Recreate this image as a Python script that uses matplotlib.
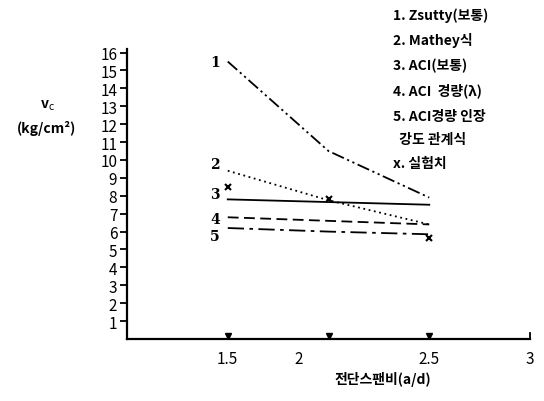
import matplotlib
matplotlib.use("Agg")
import matplotlib.pyplot as plt

plt.rcParams['font.family'] = ['Noto Sans CJK KR', 'DejaVu Sans']

ad = [1.5, 2.0, 2.5]
zsutty = [15.5, 10.5, 7.9]
mathey = [9.4, 7.75, 6.4]
aci = [7.8, 7.65, 7.5]
aci_light = [6.8, 6.6, 6.4]
aci_tensile = [6.2, 6.0, 5.85]
test = [8.5, 7.8, 5.65]

series = [zsutty, mathey, aci, aci_light, aci_tensile]
series_ids = ['1', '2', '3', '4', '5']
styles = [(0, (7, 2, 1.2, 2, 1.2, 2)), (0, (1, 2)), '-', (0, (6, 3)), (0, (9, 3, 2, 3))]
label_dy = [0.0, 0.4, 0.3, -0.1, -0.45]

yticks = list(range(1, 17))
xtick_pos = [1.5, 1.85, 2.5, 3.0]
xtick_labels = ['1.5', '2', '2.5', '3']

legend_lines = ['1. Zsutty(보통)', '2. Mathey식', '3. ACI(보통)', '4. ACI  경량(λ)',
                '5. ACI경량 인장', '  강도 관계식', 'x. 실험치']
legend_y = [16, 41, 66, 91, 117, 140, 164]

fig = plt.figure(figsize=(5.44, 4.02), dpi=100)
ax = fig.add_axes([127 / 544, 62 / 402, 403 / 544, 290 / 402])
ax.set_xlim(1.0, 3.0)
ax.set_ylim(0, 16.2)

for vals, sid, ls, dy in zip(series, series_ids, styles, label_dy):
    ax.plot(ad, vals, color='black', lw=1.3, linestyle=ls)
    ax.text(ad[0] - 0.04, vals[0] + dy, sid, ha='right', va='center', fontsize=10,
            fontweight='bold', family=['DejaVu Serif'])

ax.plot(ad, test, linestyle='none', marker='x', color='black', ms=5, mew=1.5)

ax.spines['top'].set_visible(False)
ax.spines['right'].set_visible(False)
ax.spines['left'].set_linewidth(1.6)
ax.spines['bottom'].set_linewidth(1.6)

ax.set_yticks(yticks)
ax.set_yticklabels([str(t) for t in yticks], fontsize=11)
ax.tick_params(axis='y', direction='out', length=5, width=1.3, pad=2)

ax.set_xticks(xtick_pos)
ax.set_xticklabels(xtick_labels, fontsize=11)
ax.tick_params(axis='x', length=0, pad=8)

# triangle marks on x axis at the data positions
ax.plot(ad, [0.18] * len(ad), linestyle='none', marker='v', color='black', ms=5, clip_on=False)
ax.plot([3.0, 3.0], [0, 0.35], color='black', lw=1.3, clip_on=False)

fig.text(47 / 544, 1 - 106 / 402, 'v$_\\mathrm{c}$', ha='center', va='center', fontsize=10, fontweight='bold')
fig.text(47 / 544, 1 - 128 / 402, '(kg/cm²)', ha='center', va='center', fontsize=10, fontweight='bold')

fig.text(383 / 544, 1 - 380 / 402, '전단스팬비(a/d)', ha='center', va='center', fontsize=10, fontweight='bold')

for line, yy in zip(legend_lines, legend_y):
    fig.text(393 / 544, 1 - yy / 402, line, ha='left', va='center', fontsize=10, fontweight='bold')

fig.savefig('out.png', dpi=100)
